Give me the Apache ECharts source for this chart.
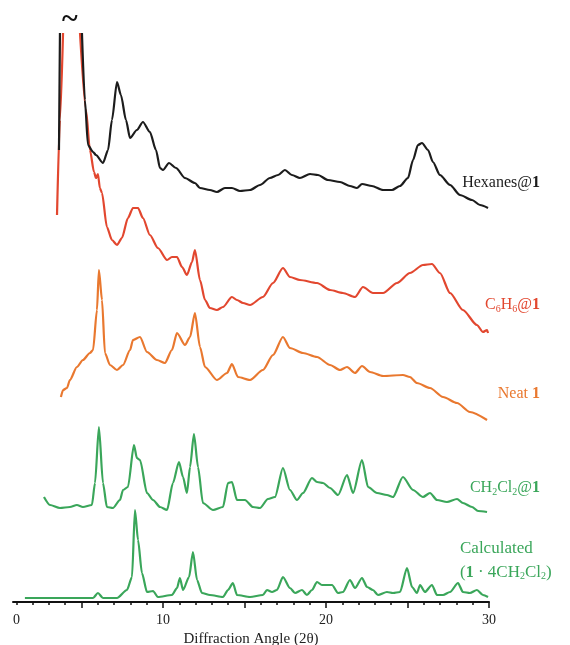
<!DOCTYPE html>
<html>
<head>
<meta charset="utf-8">
<script src="https://cdn.jsdelivr.net/npm/echarts@6/dist/echarts.min.js"></script>
<style>html,body{margin:0;padding:0;background:#fff}#c{width:570px;height:645px}</style>
</head>
<body>
<div id="c"></div>
<script>
// 2θ positions and stacked intensities (display units, offset per trace); null = broken (off-scale) segment
var hexTheta = [3.62,3.68,null,5.03,5.21,5.40,5.71,5.89,6.32,6.63,6.87,7.18,7.42,7.73,7.98,8.40,8.77,9.20,9.57,9.82,10.00,10.37,10.80,11.35,11.96,12.27,12.88,13.31,13.80,14.23,14.72,15.34,15.95,16.56,17.06,17.48,17.91,18.40,19.02,19.51,20.12,20.86,21.47,21.90,22.21,22.82,23.50,24.05,24.54,25.03,25.34,25.64,25.89,26.26,26.56,26.99,27.61,28.22,28.96,29.45,29.94];
var hexInt   = [452,569,null,569,502,457,450,447,439,452,482,520,507,482,464,472,480,470,452,434,432,439,434,424,419,414,412,410,414,414,411,412,417,424,427,432,427,424,428,427,422,420,416,414,418,416,412,412,416,424,442,457,459,452,440,427,417,407,402,397,394];

var benTheta = [3.50,3.68,3.87,null,4.91,5.28,5.52,5.77,5.89,6.01,6.13,6.26,6.56,6.87,7.18,7.48,7.85,8.16,8.47,8.77,9.20,9.69,10.25,10.55,10.86,11.17,11.47,11.78,11.96,12.27,12.58,12.88,13.31,13.68,14.23,14.54,14.91,15.34,16.13,16.75,17.36,17.79,18.40,19.45,20.25,21.04,21.78,22.27,22.88,23.50,24.36,25.15,25.95,26.50,26.99,27.61,28.40,29.26,29.63,29.88,29.94];
var benInt   = [387,482,569,null,569,492,452,430,424,428,414,409,375,362,357,364,384,394,394,384,367,354,342,345,345,335,327,340,352,322,302,294,292,295,305,302,299,297,305,319,334,325,322,319,312,309,305,315,309,309,319,329,337,338,329,309,292,277,270,272,269];

var neatTheta = [3.74,3.87,4.11,4.29,4.72,5.09,5.52,5.71,5.95,6.07,6.26,6.44,6.75,7.18,7.55,7.98,8.16,8.59,9.02,9.63,10.12,10.55,10.86,11.35,11.66,11.96,12.27,12.58,13.31,13.93,14.23,14.60,15.34,16.13,16.75,17.36,17.79,18.59,19.45,20.25,20.86,21.29,21.78,22.21,22.70,23.50,24.72,25.15,25.58,26.38,27.18,28.04,28.83,29.88];
var neatInt   = [205,212,214,222,235,242,249,252,292,332,302,249,237,232,237,252,262,265,250,242,239,252,269,257,265,289,255,235,222,229,238,225,222,232,247,265,254,249,245,237,232,235,229,236,230,226,227,225,219,214,205,199,190,182];

var dcmTheta = [2.70,3.07,3.68,4.29,4.72,5.09,5.64,5.83,6.07,6.32,6.56,6.93,7.36,7.55,7.85,8.22,8.40,8.59,9.02,9.39,9.82,10.25,10.61,10.98,11.23,11.47,11.66,11.90,12.15,12.45,13.07,13.68,13.99,14.23,14.54,15.03,15.52,15.95,16.44,16.87,17.36,17.79,18.22,18.59,19.14,19.45,19.82,20.25,20.74,21.29,21.66,22.21,22.58,23.13,23.74,24.11,24.72,25.34,25.95,26.38,26.81,27.42,28.04,28.40,28.96,29.33,29.88];
var dcmInt   = [105,97,94,95,97,95,97,119,175,119,95,94,102,112,115,157,144,142,109,102,95,92,119,140,125,109,135,168,135,99,92,95,119,120,102,102,95,94,103,105,134,112,102,109,124,120,119,114,107,127,109,142,115,109,107,105,125,112,105,109,102,100,103,99,95,91,90];

var calcTheta = [1.53,5.71,6.01,6.32,7.18,7.79,8.10,8.28,8.47,8.71,9.02,9.39,9.69,10.55,10.86,11.04,11.23,11.60,11.84,12.09,12.39,12.88,13.68,13.99,14.29,14.54,15.34,16.13,16.38,16.69,16.99,17.36,17.79,18.10,18.53,18.83,19.14,19.45,19.75,20.37,20.74,21.04,21.47,21.78,22.21,22.52,22.88,23.19,23.74,24.11,24.54,24.97,25.28,25.58,25.77,26.07,26.50,26.81,27.18,27.61,28.10,28.40,28.83,29.26,29.63,29.94];
var calcInt   = [4,4,9,4,4,12,25,92,62,29,10,11,5,7,14,24,12,25,50,22,9,7,5,12,19,7,5,7,12,10,12,25,14,9,12,7,12,20,17,17,9,10,22,14,24,15,12,7,10,9,10,34,15,9,17,10,17,7,7,10,19,10,9,12,7,5];

var xMajorLabels = [10, 20, 30];
var xMinorTicks = [1,2,3,4,5,6,7,8,9,10,11,12,13,14,15,16,17,18,19,20,21,22,23,24,25,26,27,28,29,30];
var xMajorTicks = [5,10,15,20,25,30];

function pairs(t, v) {
  var out = [];
  for (var i = 0; i < t.length; i++) {
    if (t[i] === null) out.push([(t[i-1] + t[i+1]) / 2, '-']);
    else out.push([t[i], v[i]]);
  }
  return out;
}

var cBlack = '#1c1c1c', cRed = '#e2472f', cOrange = '#e9782f', cGreen = '#3aa65a';
function lineSeries(name, data, color) {
  return { name: name, type: 'line', data: data, showSymbol: false, connectNulls: false,
    smooth: 0.25, smoothMonotone: 'x',
    lineStyle: { color: color, width: 2.2 }, itemStyle: { color: color }, z: 3, animation: false };
}

var serif = '"Liberation Serif", "DejaVu Serif", serif';
var FS = 16;
function rich(color) {
  return { s: { fontSize: 10, fontFamily: serif, verticalAlign: 'bottom', padding: [8,0,0,0], fill: color },
           b: { fontWeight: 'bold', fontSize: FS, fontFamily: serif, fill: color } };
}
var chart = echarts.init(document.getElementById('c'), null, { renderer: 'canvas' });
chart.setOption({
  animation: false,
  grid: { left: 13, right: 81, top: 2, bottom: 43, containLabel: false, outerBoundsMode: 'none' },
  xAxis: [{
    type: 'value', min: 0.8, max: 30,
    name: 'Diffraction Angle (2θ)', nameLocation: 'middle', nameGap: 27,
    nameTextStyle: { fontFamily: serif, fontSize: 15, color: '#222' },
    axisLine: { show: true, lineStyle: { color: '#111', width: 2 } },
    axisTick: { show: true, customValues: xMinorTicks, length: 3, lineStyle: { color: '#111', width: 1.5 } },
    axisLabel: { customValues: xMajorLabels, fontFamily: serif, fontSize: 14, color: '#222', margin: 11 },
    splitLine: { show: false }
  }, {
    type: 'value', min: 0.8, max: 30, position: 'bottom',
    axisLine: { show: false },
    axisTick: { show: true, customValues: xMajorTicks, length: 6, lineStyle: { color: '#111', width: 1.5 } },
    axisLabel: { show: false }, splitLine: { show: false }
  }],
  yAxis: { type: 'value', min: 0, max: 600, show: false },
  series: [
    lineSeries('Calculated', pairs(calcTheta, calcInt), cGreen),
    lineSeries('CH2Cl2@1', pairs(dcmTheta, dcmInt), cGreen),
    lineSeries('Neat 1', pairs(neatTheta, neatInt), cOrange),
    lineSeries('C6H6@1', pairs(benTheta, benInt), cRed),
    lineSeries('Hexanes@1', pairs(hexTheta, hexInt), cBlack)
  ],
  graphic: [
    { type: 'text', left: 13, top: 613, style: { text: '0', font: '14px ' + serif, fill: '#222' } },
    { type: 'text', left: 62, top: 5, style: { text: '~', font: 'bold 30px ' + serif, fill: '#111' } },
    { type: 'text', right: 30, top: 175, style: {
        text: 'Hexanes@{b|1}', fill: cBlack, font: FS + 'px ' + serif, rich: rich(cBlack) } },
    { type: 'text', right: 30, top: 297, style: {
        text: 'C{s|6}H{s|6}@{b|1}', fill: cRed, font: FS + 'px ' + serif, rich: rich(cRed) } },
    { type: 'text', right: 30, top: 386, style: {
        text: 'Neat {b|1}', fill: cOrange, font: FS + 'px ' + serif, rich: rich(cOrange) } },
    { type: 'text', right: 30, top: 480, style: {
        text: 'CH{s|2}Cl{s|2}@{b|1}', fill: cGreen, font: FS + 'px ' + serif, rich: rich(cGreen) } },
    { type: 'text', left: 460, top: 540, style: { text: 'Calculated', fill: cGreen, font: '17px ' + serif } },
    { type: 'text', left: 460, top: 564, style: {
        text: '({b|1} · 4CH{s|2}Cl{s|2})', fill: cGreen, font: '17px ' + serif, rich: rich(cGreen) } }
  ]
});
</script>
</body>
</html>
